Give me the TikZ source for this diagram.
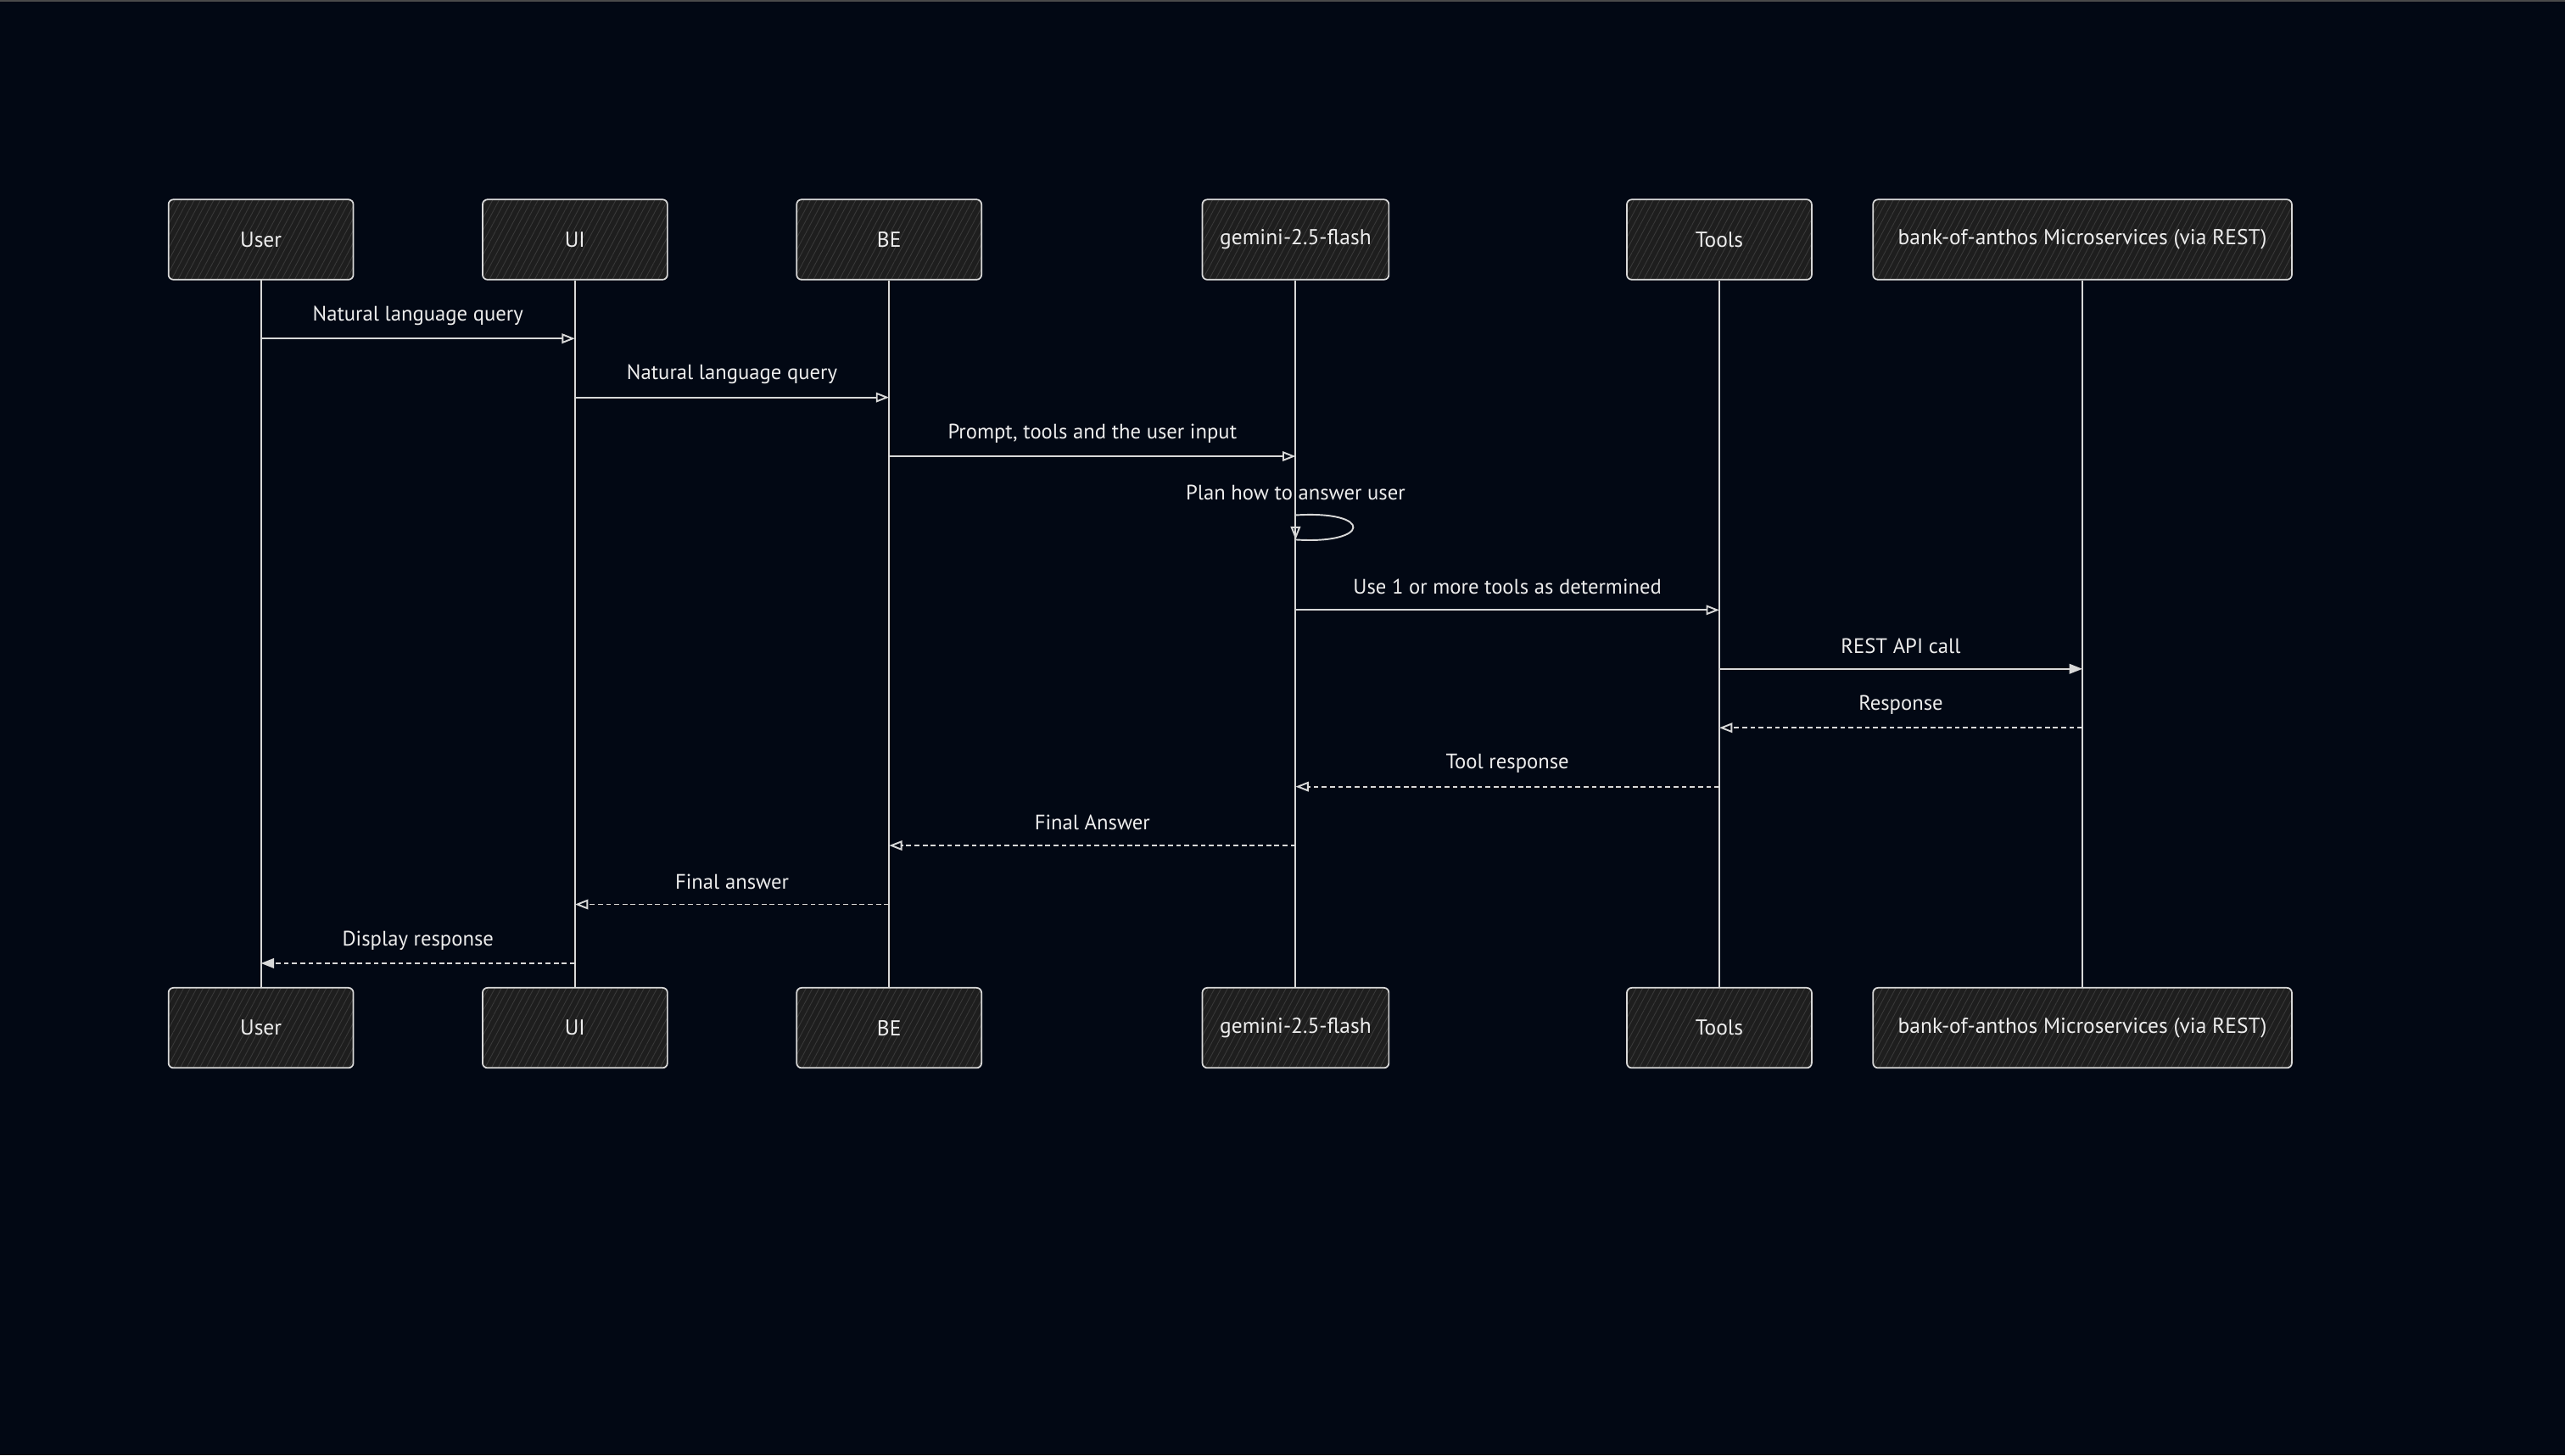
\documentclass[tikz,border=0pt]{standalone}
\usepackage{fontspec}
\setmainfont{PT Sans}
\usetikzlibrary{arrows.meta,patterns.meta,calc}
\definecolor{bgc}{HTML}{020814}
\definecolor{strk}{HTML}{D8D8D8}
\definecolor{txt}{HTML}{EDEDED}
\definecolor{boxfill}{HTML}{1E1E1E}
\definecolor{hatch}{HTML}{3A3A3A}
\definecolor{topline}{HTML}{4A4A4A}
\tikzset{
  actor/.style={draw=strk, line width=0.9pt, rounded corners=3pt,
    minimum height=49pt, text=txt, font=\fontsize{13.2}{15}\selectfont,
    preaction={fill=boxfill},
    pattern={Lines[angle=62,distance=3.5pt,line width=0.45pt]}, pattern color=hatch},
  life/.style={draw=strk, line width=1pt},
  msg/.style={draw=strk, line width=1pt, -{Triangle[open,length=8pt,width=6pt]}},
  msgf/.style={draw=strk, line width=1pt, -{Triangle[length=8pt,width=6pt,fill=strk]}},
  ret/.style={draw=strk, line width=1pt, dash pattern=on 3pt off 2pt, -{Triangle[open,length=8pt,width=6pt]}},
  retf/.style={draw=strk, line width=1pt, dash pattern=on 3pt off 2pt, -{Triangle[length=8pt,width=6pt,fill=strk]}},
  loopline/.style={draw=strk, line width=1pt},
  lbl/.style={text=txt, font=\fontsize{12.8}{15}\selectfont, inner sep=0pt, anchor=center}
}
\begin{document}
\begin{tikzpicture}[x=1pt,y=-1pt]
\fill[bgc] (0,0) rectangle (1568,890);
\useasboundingbox (0,0) rectangle (1568,890);
\fill[topline] (0,0) rectangle (1568,1.3);

% top actors
\node[actor, minimum width=113pt] (u1) at (159.5,146.5) {User};
\node[actor, minimum width=113pt] (i1) at (351.5,146.5) {UI};
\node[actor, minimum width=113pt] (b1) at (543.5,146.5) {BE};
\node[actor, minimum width=114pt] (g1) at (792,146.5) {gemini-2.5-flash};
\node[actor, minimum width=113pt] (t1) at (1051,146.5) {Tools};
\node[actor, minimum width=256pt] (k1) at (1273,146.5) {bank-of-anthos Microservices (via REST)};
% bottom actors
\node[actor, minimum width=113pt] (u2) at (159.5,628.5) {User};
\node[actor, minimum width=113pt] (i2) at (351.5,628.5) {UI};
\node[actor, minimum width=113pt] (b2) at (543.5,628.5) {BE};
\node[actor, minimum width=114pt] (g2) at (792,628.5) {gemini-2.5-flash};
\node[actor, minimum width=113pt] (t2) at (1051,628.5) {Tools};
\node[actor, minimum width=256pt] (k2) at (1273,628.5) {bank-of-anthos Microservices (via REST)};

% lifelines
\draw[life] (u1.south) -- (u2.north);
\draw[life] (i1.south) -- (i2.north);
\draw[life] (b1.south) -- (b2.north);
\draw[life] (g1.south) -- (g2.north);
\draw[life] (t1.south) -- (t2.north);
\draw[life] (k1.south) -- (k2.north);

% messages
\draw[msg] (u1 |- 0,207) -- node[lbl, yshift=14pt] (l1) {Natural language query} (i1 |- 0,207);
\draw[msg] (i1 |- 0,243) -- node[lbl, yshift=14pt] (l2) {Natural language query} (b1 |- 0,243);
\draw[msg] (b1 |- 0,279) -- node[lbl, yshift=14pt] (l3) {Prompt, tools and the user input} (g1 |- 0,279);
\node[lbl] (l4) at (g1 |- 0,301) {Plan how to answer user};
\coordinate (s1) at (g1 |- 0,315);
\coordinate (s2) at (g1 |- 0,330);
\coordinate (s3) at (g1 |- 0,321);
\draw[loopline] (s1) .. controls ($(s1)+(48,-3)$) and ($(s2)+(46,3)$) .. (s2);
\draw[msg] (s3) -- (s2);
\draw[msg] (g1 |- 0,373) -- node[lbl, yshift=14pt] (l5) {Use 1 or more tools as determined} (t1 |- 0,373);
\draw[msgf] (t1 |- 0,409) -- node[lbl, yshift=14pt] (l6) {REST API call} (k1 |- 0,409);
\draw[ret] (k1 |- 0,445) -- node[lbl, yshift=14pt] (l7) {Response} (t1 |- 0,445);
\draw[ret] (t1 |- 0,481) -- node[lbl, yshift=14pt] (l8) {Tool response} (g1 |- 0,481);
\draw[ret] (g1 |- 0,517) -- node[lbl, yshift=14pt] (l9) {Final Answer} (b1 |- 0,517);
\draw[ret] (b1 |- 0,553) -- node[lbl, yshift=14pt] (l10) {Final answer} (i1 |- 0,553);
\draw[retf] (i1 |- 0,589) -- node[lbl, yshift=14pt] (l11) {Display response} (u1 |- 0,589);
\end{tikzpicture}
\end{document}
